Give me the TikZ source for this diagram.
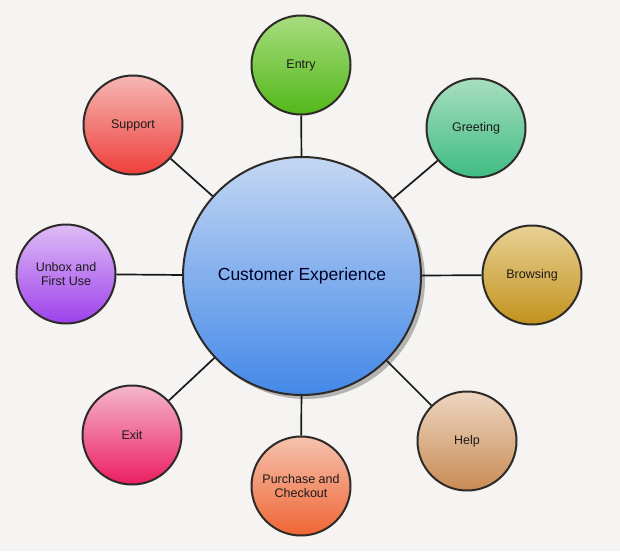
\documentclass[tikz,border=0pt]{standalone}
\usepackage{fontspec}
\setmainfont{Liberation Sans}
\usepackage{xcolor}
\usepackage{tikz}
\usetikzlibrary{shadows}
\definecolor{paper}{HTML}{F5F4F2}
\definecolor{rim}{HTML}{2E2A28}
\definecolor{ink}{HTML}{1C1A1A}
\definecolor{hubTop}{HTML}{C4D7F3}
\definecolor{hubBot}{HTML}{4388E8}
\definecolor{entryTop}{HTML}{A8DC80}
\definecolor{entryBot}{HTML}{52B818}
\definecolor{greetTop}{HTML}{A8DEC0}
\definecolor{greetBot}{HTML}{3EBC82}
\definecolor{browseTop}{HTML}{E8D196}
\definecolor{browseBot}{HTML}{C2921C}
\definecolor{helpTop}{HTML}{EDD6C0}
\definecolor{helpBot}{HTML}{C98B55}
\definecolor{buyTop}{HTML}{F6C2AE}
\definecolor{buyBot}{HTML}{EF6534}
\definecolor{exitTop}{HTML}{F5B6CC}
\definecolor{exitBot}{HTML}{EB1E62}
\definecolor{unboxTop}{HTML}{DEBDF5}
\definecolor{unboxBot}{HTML}{9D40EC}
\definecolor{supportTop}{HTML}{F6B8B4}
\definecolor{supportBot}{HTML}{EE3E3A}
\tikzset{
  bubble/.style={circle, draw=rim, line width=2pt, minimum size=99pt,
    inner sep=0pt, text=ink, align=center,
    font=\fontsize{12.5}{14.5}\selectfont},
  hubBubble/.style={bubble, minimum size=238pt, text=black!85!blue,
    font=\fontsize{17.5}{20}\selectfont,
    drop shadow={shadow xshift=4pt, shadow yshift=-4pt,
      fill=black!50, opacity=.55}},
  spoke/.style={draw=black!90, line width=1.7pt}
}

\begin{document}
\begin{tikzpicture}[x=1pt,y=-1pt]
  \fill[paper] (0,0) rectangle (620,551);
  \useasboundingbox (0,0) rectangle (620,551);

  \node[hubBubble, top color=hubTop, bottom color=hubBot] (hub) at (302,276) {Customer Experience};

  \node[bubble, top color=entryTop, bottom color=entryBot] (entry) at (301,65) {Entry};
  \node[bubble, top color=greetTop, bottom color=greetBot] (greeting) at (476,128) {Greeting};
  \node[bubble, top color=browseTop, bottom color=browseBot] (browsing) at (532,275) {Browsing};
  \node[bubble, top color=helpTop, bottom color=helpBot] (help) at (467,441) {Help};
  \node[bubble, top color=buyTop, bottom color=buyBot] (purchase) at (301,486) {Purchase and\\Checkout};
  \node[bubble, top color=exitTop, bottom color=exitBot] (exit) at (132,435) {Exit};
  \node[bubble, top color=unboxTop, bottom color=unboxBot] (unbox) at (66,274) {Unbox and\\First Use};
  \node[bubble, top color=supportTop, bottom color=supportBot] (support) at (133,125) {Support};

  \foreach \s in {entry,greeting,browsing,help,purchase,exit,unbox,support}
    \draw[spoke] (hub) -- (\s);
\end{tikzpicture}
\end{document}
